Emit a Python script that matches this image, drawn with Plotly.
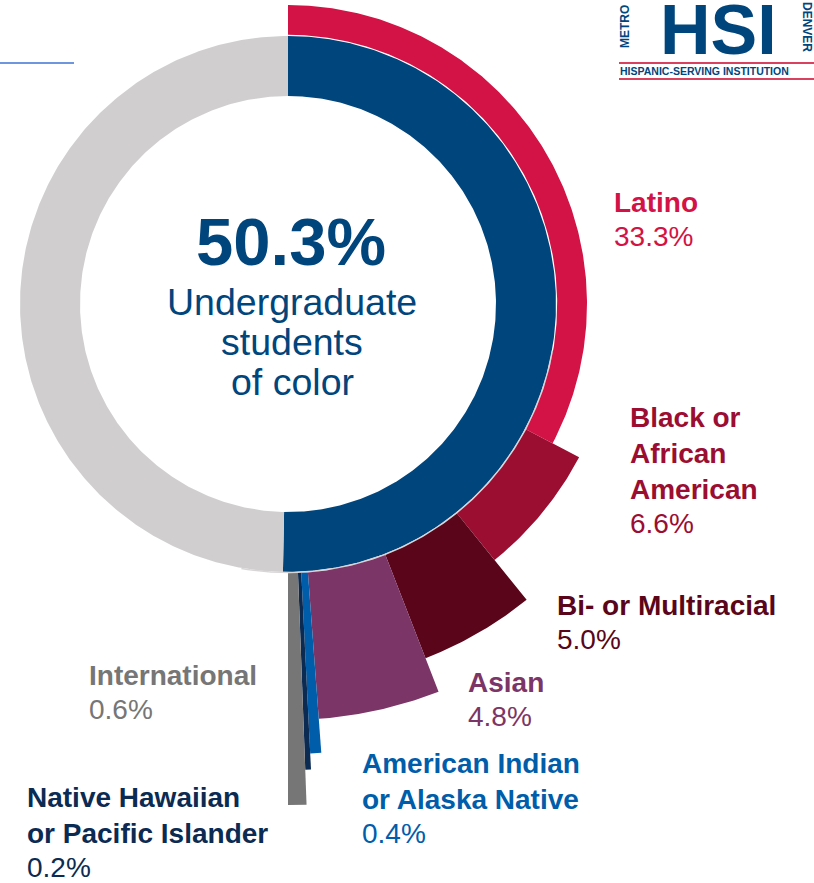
import numpy as np
import plotly.graph_objects as go

# ---- data -------------------------------------------------------------
ring_labels = ["Undergraduate students of color", "All other undergraduates"]
ring_values = [50.3, 49.7]

groups = [
    "Latino",
    "Black or African American",
    "Bi- or Multiracial",
    "Asian",
    "American Indian or Alaska Native",
    "Native Hawaiian or Pacific Islander",
    "International",
]
shares = [33.3, 6.6, 5.0, 4.8, 0.4, 0.2, 0.6]
label_lines = [
    ["Latino"],
    ["Black or", "African", "American"],
    ["Bi- or Multiracial"],
    ["Asian"],
    ["American Indian", "or Alaska Native"],
    ["Native Hawaiian", "or Pacific Islander"],
    ["International"],
]

# ---- geometry & style ---------------------------------------------------
W, H = 814, 883
CX, CY = 288, 304             # centre of the rings (pixel units)
R_IN, R_OUT = 208, 268        # inner ring radii
SEG_REACH = [299, 329, 380, 416, 450, 466, 501]   # outer radius of each breakdown wedge
RING_COLORS = ["#00457c", "#d0cecf"]
SEG_COLORS = ["#d31245", "#9b0d31", "#5a0519", "#7b3566", "#005daa", "#0b2b52", "#767676"]
LABEL_ANCHOR = [(613, 212), (629, 427), (556, 615), (467, 692),
                (361, 773), (26, 807), (88, 685)]  # left x, first baseline
LINE_GAP = 36
FONT = "Liberation Sans, Arial, sans-serif"
LABEL_SIZE = 28
NAVY = "#00457c"


def wedge(a0, a1, r0, r1):
    """Annular sector, angles in degrees clockwise from 12 o'clock."""
    n = max(3, int(abs(a1 - a0) * 2) + 2)
    t = np.radians(np.linspace(a0, a1, n))
    xs = np.concatenate([CX + r1 * np.sin(t), CX + r0 * np.sin(t[::-1])])
    ys = np.concatenate([CY - r1 * np.cos(t), CY - r0 * np.cos(t[::-1])])
    return np.append(xs, xs[0]), np.append(ys, ys[0])


fig = go.Figure()

# inner ring: share of the whole undergraduate body
start = 0.0
for lab, val, col in zip(ring_labels, ring_values, RING_COLORS):
    sweep = val / sum(ring_values) * 360.0
    xs, ys = wedge(start, start + sweep, R_IN, R_OUT)
    fig.add_trace(go.Scatter(x=xs, y=ys, mode="lines", fill="toself",
                             fillcolor=col, line=dict(width=0, color=col),
                             name=lab, hoverinfo="name", showlegend=False))
    start += sweep

# thin pale rim between the ring and the breakdown wedges
rim_t = np.radians(np.linspace(100, 190, 200))
fig.add_trace(go.Scatter(x=CX + (R_OUT + 0.5) * np.sin(rim_t),
                         y=CY - (R_OUT + 0.5) * np.cos(rim_t),
                         mode="lines", line=dict(color="#d9d6d8", width=1.5),
                         hoverinfo="skip", showlegend=False))

# outer breakdown: wedges share the right half of the ring
start = 0.0
total = sum(shares)
for name, val, col, reach in zip(groups, shares, SEG_COLORS, SEG_REACH):
    sweep = val / total * 180.0
    xs, ys = wedge(start, start + sweep, R_OUT + 1.2, reach)
    fig.add_trace(go.Scatter(x=xs, y=ys, mode="lines", fill="toself",
                             fillcolor=col, line=dict(width=0, color=col),
                             name=f"{name}: {val:.1f}%", hoverinfo="name",
                             showlegend=False))
    start += sweep

annotations = []


def text_line(x, baseline, txt, size, color, anchor="left", bold=False):
    body = f"<b>{txt}</b>" if bold else txt
    annotations.append(dict(
        x=x, y=baseline - 0.3465 * size, xref="x", yref="y",
        text=body, showarrow=False, xanchor=anchor, yanchor="middle",
        align=anchor, borderpad=0,
        font=dict(family=FONT, size=size, color=color)))


# group labels
for lines, val, col, (lx, ly) in zip(label_lines, shares, SEG_COLORS, LABEL_ANCHOR):
    for i, ln in enumerate(lines):
        text_line(lx, ly + i * LINE_GAP, ln, LABEL_SIZE, col, bold=True)
    text_line(lx, ly + len(lines) * LINE_GAP - 2, f"{val:.1f}%", LABEL_SIZE, col)

# centre text
text_line(291, 265, f"{ring_values[0]:.1f}%", 67, NAVY, anchor="center", bold=True)
for i, ln in enumerate(["Undergraduate", "students", "of color"]):
    text_line(292, 315 + i * 40, ln, 37.5, NAVY, anchor="center")

# logo block, top right
annotations.append(dict(x=718, y=54 - 0.3465 * 70, xref="x", yref="y", text="<b>HSI</b>",
                        showarrow=False, xanchor="center", yanchor="middle", borderpad=0,
                        font=dict(family="Liberation Sans Narrow, Arial Narrow, Liberation Sans",
                                  size=70, color=NAVY)))
annotations.append(dict(x=625, y=27, xref="x", yref="y", text="<b>METRO</b>",
                        showarrow=False, textangle=-90, borderpad=0,
                        font=dict(family=FONT, size=12, color=NAVY)))
annotations.append(dict(x=807, y=27, xref="x", yref="y", text="<b>DENVER</b>",
                        showarrow=False, textangle=90, borderpad=0,
                        font=dict(family=FONT, size=12, color=NAVY)))
annotations.append(dict(x=619, y=71, xref="x", yref="y",
                        text="<b>HISPANIC-SERVING INSTITUTION</b>",
                        showarrow=False, xanchor="left", yanchor="middle", borderpad=0,
                        font=dict(family=FONT, size=10.5, color=NAVY)))

shapes = [
    dict(type="line", xref="x", yref="y", x0=619, x1=W, y0=63, y1=63,
         line=dict(color="#d8425f", width=2)),
    dict(type="line", xref="x", yref="y", x0=619, x1=W, y0=79, y1=79,
         line=dict(color="#d8425f", width=2)),
    dict(type="line", xref="x", yref="y", x0=0, x1=74, y0=63, y1=63,
         line=dict(color="#6f95dd", width=2)),
]

fig.update_layout(
    width=W, height=H, margin=dict(l=0, r=0, t=0, b=0),
    paper_bgcolor="white", plot_bgcolor="white",
    xaxis=dict(range=[0, W], visible=False, fixedrange=True),
    yaxis=dict(range=[H, 0], visible=False, fixedrange=True),
    annotations=annotations, shapes=shapes, showlegend=False,
)

fig.write_html("out.html")
